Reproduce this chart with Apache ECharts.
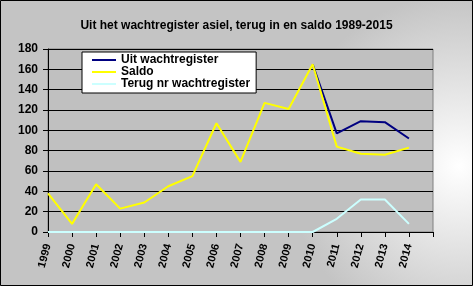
<!DOCTYPE html>
<html><head><meta charset="utf-8">
<script src="https://cdn.jsdelivr.net/npm/echarts@6/dist/echarts.min.js"></script>
<style>html,body{margin:0;padding:0;}#c{width:473px;height:286px;}</style>
</head><body><div id="c"></div>
<script>
const years = ['1999','2000','2001','2002','2003','2004','2005','2006','2007','2008','2009','2010','2011','2012','2013','2014',''];
const uit =   [null,null,null,null,null,null,null,null,null,null,null,165,97,109,108,92,null];
const saldo = [38,8,47,23,29,45,55,107,69,127,121,165,84,77,76,83,null];
const terug = [0,0,0,0,0,0,0,0,0,0,0,0,13,32,32,8,null];
const yTicks = {min:0, max:180, interval:20};

const chart = echarts.init(document.getElementById('c'), null, {renderer:'canvas'});
const font = '"Liberation Sans", Arial, sans-serif';
const lineIcon = 'path://M0,0 L24,0 L24,2 L0,2 Z';
chart.setOption({
  animation:false,
  graphic:[
    {type:'rect', z:-10, silent:true, shape:{x:0,y:0,width:473,height:286},
     style:{fill:new echarts.graphic.RadialGradient(0.97,0.58,0.6,[{offset:0,color:'#ffffff'},{offset:1,color:'#c4c4c4'}])}},
    {type:'rect', z:100, silent:true, shape:{x:0.5,y:0.5,width:472,height:285},
     style:{fill:'none',stroke:'#000',lineWidth:1}}
  ],
  title:{text:'Uit het wachtregister asiel, terug in en saldo 1989-2015', left:'center', top:15,
    textStyle:{fontFamily:font,fontSize:12,fontWeight:'bold',color:'#000'}},
  legend:{orient:'vertical', left:82, top:52, itemWidth:24, itemHeight:14, itemGap:0,
    backgroundColor:'#fff', borderColor:'#000', borderWidth:1, borderRadius:0, padding:[2,6,3,10],
    textStyle:{fontFamily:font,fontSize:12,fontWeight:'bold',color:'#000'},
    data:[{name:'Uit wachtregister',icon:lineIcon},{name:'Saldo',icon:lineIcon},{name:'Terug nr wachtregister',icon:lineIcon}]},
  grid:{left:48, right:40, top:49, bottom:54, show:true, backgroundColor:'#c0c0c0', borderColor:'#808080', borderWidth:1},
  xAxis:{type:'category', data:years, boundaryGap:false,
    axisLine:{lineStyle:{color:'#000',width:1}},
    axisTick:{show:true, length:5, interval:0, lineStyle:{color:'#000'}},
    axisLabel:{interval:0, rotate:75, margin:12, fontFamily:font, fontSize:11, fontWeight:'bold', color:'#000'},
    splitLine:{show:false}},
  yAxis:{type:'value', min:yTicks.min, max:yTicks.max, interval:yTicks.interval,
    axisLine:{show:true, lineStyle:{color:'#000'}},
    axisTick:{show:true, length:5, lineStyle:{color:'#000'}},
    axisLabel:{margin:10, fontFamily:font, fontSize:12, fontWeight:'bold', color:'#000'},
    splitLine:{lineStyle:{color:'#000',width:1}}},
  series:[
    {name:'Uit wachtregister', type:'line', data:uit, symbol:'none', lineStyle:{color:'#000080',width:2}, itemStyle:{color:'#000080'}, z:2},
    {name:'Saldo', type:'line', data:saldo, symbol:'none', lineStyle:{color:'#ffff00',width:2}, itemStyle:{color:'#ffff00'}, z:3},
    {name:'Terug nr wachtregister', type:'line', data:terug, symbol:'none', lineStyle:{color:'#ccffff',width:2}, itemStyle:{color:'#ccffff'}, z:4}
  ]
});
</script></body></html>
